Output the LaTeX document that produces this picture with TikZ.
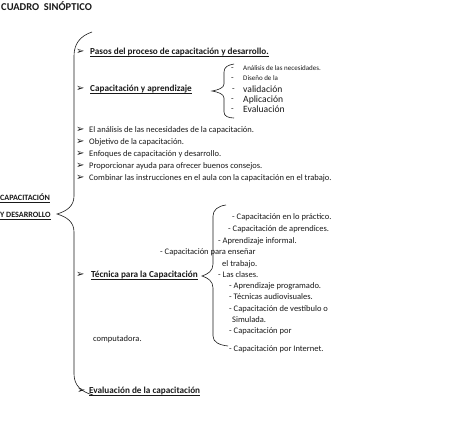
\documentclass[tikz,border=0pt]{standalone}
\usepackage{fontspec}
\setmainfont{Carlito}
\newfontfamily\symfont{DejaVu Sans}
\usepackage{tikz}
\usetikzlibrary{positioning}
\definecolor{tinta}{RGB}{25,25,25}
\newcommand{\subrayar}[1]{\underline{\raisebox{0pt}[\height][0pt]{#1}}}
\tikzset{
  linea/.style={
    anchor=west, inner sep=0pt, text=tinta,
    execute at begin node={\vphantom{Ágy}}
  },
  titulo/.style={
    linea, font=\fontsize{10.5}{12}\selectfont\bfseries
  },
  encabezado/.style={
    linea, font=\fontsize{9.2}{11}\selectfont\bfseries
  },
  raiz/.style={
    linea, font=\fontsize{8.1}{10}\selectfont\bfseries
  },
  texto/.style={
    linea, font=\fontsize{8.5}{10}\selectfont
  },
  mediano/.style={
    linea, font=\fontsize{9.6}{11}\selectfont
  },
  diminuto/.style={
    linea, font=\fontsize{7}{8}\selectfont
  },
  vineta/.style={
    anchor=west, inner sep=0pt, text=tinta,
    font=\symfont\fontsize{10}{11}\selectfont
  },
  llave/.style={draw=tinta, line width=0.6pt},
}

\begin{document}
\begin{tikzpicture}[x=1pt, y={(0,-1pt)}]
  \useasboundingbox (0,0) rectangle (474,434);

  %% ── Title ──
  \node[titulo] (title) at (1,7) {CUADRO\ \ SINÓPTICO};

  %% ── Root ──
  \node[raiz] (raiz1) at (0,198) {\subrayar{CAPACITACIÓN}};
  \node[raiz] (raiz2) at (0,215) {\subrayar{Y DESARROLLO}};

  %% ── Main brace ──
  \draw[llave] (92,32) .. controls (80,36) and (74,44) .. (74,56)
    -- (74,196) .. controls (74,206) and (67,211) .. (57,214)
    .. controls (67,217) and (74,222) .. (74,232)
    -- (74,374) .. controls (74,386) and (82,392) .. (93,395);

  %% ── Pasos / Capacitación y aprendizaje ──
  \node[vineta] (b1) at (76,52) {➢};
  \node[encabezado] (pasos) at (90,52) {\subrayar{Pasos del proceso de capacitación y desarrollo.}};
  \node[vineta] (b2) at (76,89) {➢};
  \node[encabezado] (capapr) at (90,89) {\subrayar{Capacitación y aprendizaje}};

  %% ── Sub brace 1 ──
  \draw[llave] (234,64) .. controls (228,65) and (224,67) .. (224,72)
    -- (224,84) .. controls (224,88) and (218,90) .. (212,91)
    .. controls (218,92) and (224,94) .. (224,98)
    -- (224,112) .. controls (224,116) and (228,118) .. (234,118);
  \node[texto] (g1) at (231,68) {-};
  \node[texto] (g2) at (231,78) {-};
  \node[texto] (g3) at (232,89) {-};
  \node[texto] (g4) at (231,99) {-};
  \node[texto] (g5) at (231,109) {-};
  \node[diminuto] (analisis) at (243,68) {Análisis de las necesidades.};
  \node[diminuto] (diseno) at (243,78) {Diseño de la};
  \node[mediano] (validacion) at (243,89) {validación};
  \node[mediano] (aplicacion) at (243,99) {Aplicación};
  \node[mediano] (evalua) at (243,109) {Evaluación};

  %% ── Bullet list ──
  \node[vineta] (b3) at (76,130) {➢};
  \node[texto] (item1) at (89,130) {El análisis de las necesidades de la capacitación.};
  \node[vineta] (b4) at (76,142) {➢};
  \node[texto] (item2) at (89,142) {Objetivo de la capacitación.};
  \node[vineta] (b5) at (76,154) {➢};
  \node[texto] (item3) at (89,154) {Enfoques de capacitación y desarrollo.};
  \node[vineta] (b6) at (76,166) {➢};
  \node[texto] (item4) at (89,166) {Proporcionar ayuda para ofrecer buenos consejos.};
  \node[vineta] (b7) at (76,178) {➢};
  \node[texto] (item5) at (89,178) {Combinar las instrucciones en el aula con la capacitación en el trabajo.};

  %% ── Técnica ──
  \node[vineta] (b8) at (76,275) {➢};
  \node[encabezado] (tecnica) at (91,275) {\subrayar{Técnica para la Capacitación}};

  %% ── Sub brace 2 ──
  \draw[llave] (226,205) .. controls (218,206) and (213,210) .. (213,216)
    -- (213,264) .. controls (213,271) and (208,274) .. (202,276)
    .. controls (208,278) and (213,281) .. (213,288)
    -- (213,336) .. controls (213,342) and (219,345) .. (228,346);
  \node[texto] (t1) at (232,217) {- Capacitación en lo práctico.};
  \node[texto] (t2) at (228,229) {- Capacitación de aprendices.};
  \node[texto] (t3) at (218,241) {- Aprendizaje informal.};
  \node[texto] (t4) at (160,252) {- Capacitación para enseñar};
  \node[texto] (t4b) at (222,264) {el trabajo.};
  \node[texto] (t5) at (218,275) {- Las clases.};
  \node[texto] (t6) at (229,286) {- Aprendizaje programado.};
  \node[texto] (t7) at (229,297) {- Técnicas audiovisuales.};
  \node[texto] (t8) at (229,309) {- Capacitación de vestíbulo o};
  \node[texto] (t8b) at (232,320) {Simulada.};
  \node[texto] (t9) at (229,331) {- Capacitación por};
  \node[texto] (t9b) at (93,339) {computadora.};
  \node[texto] (t10) at (229,349) {- Capacitación por Internet.};

  %% ── Evaluación ──
  \node[vineta] (b9) at (77,391) {➢};
  \node[encabezado] (evaluacion) at (89,391) {\subrayar{Evaluación de la capacitación}};

\end{tikzpicture}
\end{document}
